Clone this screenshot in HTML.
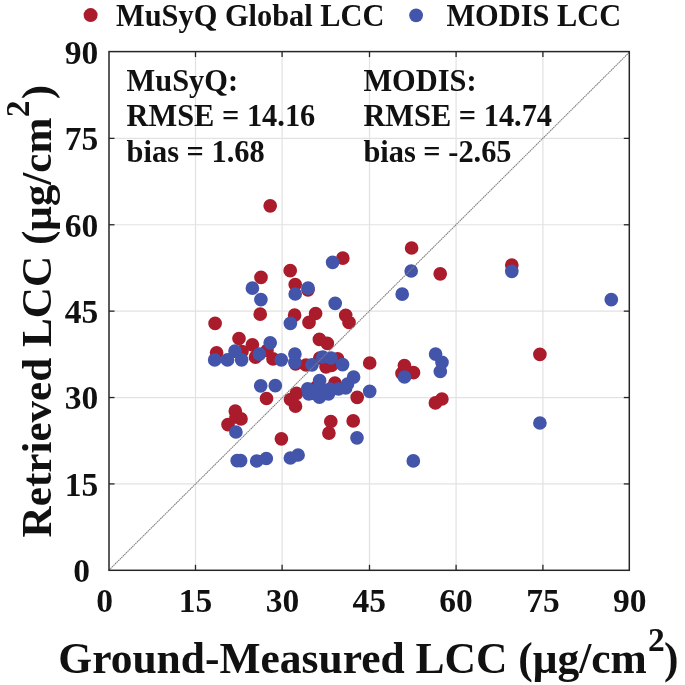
<!DOCTYPE html><html><head><meta charset="utf-8"><style>html,body{margin:0;padding:0;background:#fff;width:685px;height:685px;overflow:hidden}svg{display:block;filter:blur(0.45px)}text{font-family:"Liberation Serif",serif;font-weight:bold;fill:#111}</style></head><body>
<svg width="685" height="685" viewBox="0 0 685 685">
<rect width="685" height="685" fill="#fff"/>
<g stroke="#e2e2e2" stroke-width="1.2"><line x1="195.50" y1="51.6" x2="195.50" y2="570.3"/><line x1="109.0" y1="483.92" x2="629.3" y2="483.92"/><line x1="282.10" y1="51.6" x2="282.10" y2="570.3"/><line x1="109.0" y1="397.53" x2="629.3" y2="397.53"/><line x1="369.50" y1="51.6" x2="369.50" y2="570.3"/><line x1="109.0" y1="311.15" x2="629.3" y2="311.15"/><line x1="456.10" y1="51.6" x2="456.10" y2="570.3"/><line x1="109.0" y1="224.77" x2="629.3" y2="224.77"/><line x1="542.90" y1="51.6" x2="542.90" y2="570.3"/><line x1="109.0" y1="138.38" x2="629.3" y2="138.38"/></g>
<path fill="#aa1b2b" d="M263.35,205.80a6.85,6.85 0 1,0 13.70,0a6.85,6.85 0 1,0 -13.70,0zM254.15,277.40a6.85,6.85 0 1,0 13.70,0a6.85,6.85 0 1,0 -13.70,0zM283.35,270.70a6.85,6.85 0 1,0 13.70,0a6.85,6.85 0 1,0 -13.70,0zM288.35,284.50a6.85,6.85 0 1,0 13.70,0a6.85,6.85 0 1,0 -13.70,0zM301.15,289.80a6.85,6.85 0 1,0 13.70,0a6.85,6.85 0 1,0 -13.70,0zM253.35,314.20a6.85,6.85 0 1,0 13.70,0a6.85,6.85 0 1,0 -13.70,0zM208.25,323.40a6.85,6.85 0 1,0 13.70,0a6.85,6.85 0 1,0 -13.70,0zM287.75,315.20a6.85,6.85 0 1,0 13.70,0a6.85,6.85 0 1,0 -13.70,0zM308.75,313.50a6.85,6.85 0 1,0 13.70,0a6.85,6.85 0 1,0 -13.70,0zM302.15,322.40a6.85,6.85 0 1,0 13.70,0a6.85,6.85 0 1,0 -13.70,0zM338.85,315.30a6.85,6.85 0 1,0 13.70,0a6.85,6.85 0 1,0 -13.70,0zM342.15,322.40a6.85,6.85 0 1,0 13.70,0a6.85,6.85 0 1,0 -13.70,0zM335.95,258.20a6.85,6.85 0 1,0 13.70,0a6.85,6.85 0 1,0 -13.70,0zM232.15,338.50a6.85,6.85 0 1,0 13.70,0a6.85,6.85 0 1,0 -13.70,0zM245.55,344.80a6.85,6.85 0 1,0 13.70,0a6.85,6.85 0 1,0 -13.70,0zM209.75,352.80a6.85,6.85 0 1,0 13.70,0a6.85,6.85 0 1,0 -13.70,0zM235.15,351.50a6.85,6.85 0 1,0 13.70,0a6.85,6.85 0 1,0 -13.70,0zM248.65,357.20a6.85,6.85 0 1,0 13.70,0a6.85,6.85 0 1,0 -13.70,0zM260.15,350.50a6.85,6.85 0 1,0 13.70,0a6.85,6.85 0 1,0 -13.70,0zM266.15,358.90a6.85,6.85 0 1,0 13.70,0a6.85,6.85 0 1,0 -13.70,0zM312.55,339.40a6.85,6.85 0 1,0 13.70,0a6.85,6.85 0 1,0 -13.70,0zM320.45,343.40a6.85,6.85 0 1,0 13.70,0a6.85,6.85 0 1,0 -13.70,0zM299.15,365.00a6.85,6.85 0 1,0 13.70,0a6.85,6.85 0 1,0 -13.70,0zM288.75,363.80a6.85,6.85 0 1,0 13.70,0a6.85,6.85 0 1,0 -13.70,0zM312.95,358.00a6.85,6.85 0 1,0 13.70,0a6.85,6.85 0 1,0 -13.70,0zM330.75,358.80a6.85,6.85 0 1,0 13.70,0a6.85,6.85 0 1,0 -13.70,0zM319.15,366.80a6.85,6.85 0 1,0 13.70,0a6.85,6.85 0 1,0 -13.70,0zM324.65,365.50a6.85,6.85 0 1,0 13.70,0a6.85,6.85 0 1,0 -13.70,0zM328.05,383.00a6.85,6.85 0 1,0 13.70,0a6.85,6.85 0 1,0 -13.70,0zM309.65,387.20a6.85,6.85 0 1,0 13.70,0a6.85,6.85 0 1,0 -13.70,0zM289.65,393.40a6.85,6.85 0 1,0 13.70,0a6.85,6.85 0 1,0 -13.70,0zM283.65,399.50a6.85,6.85 0 1,0 13.70,0a6.85,6.85 0 1,0 -13.70,0zM288.65,406.20a6.85,6.85 0 1,0 13.70,0a6.85,6.85 0 1,0 -13.70,0zM362.85,363.00a6.85,6.85 0 1,0 13.70,0a6.85,6.85 0 1,0 -13.70,0zM350.35,397.30a6.85,6.85 0 1,0 13.70,0a6.85,6.85 0 1,0 -13.70,0zM323.95,421.50a6.85,6.85 0 1,0 13.70,0a6.85,6.85 0 1,0 -13.70,0zM322.05,433.10a6.85,6.85 0 1,0 13.70,0a6.85,6.85 0 1,0 -13.70,0zM346.35,420.90a6.85,6.85 0 1,0 13.70,0a6.85,6.85 0 1,0 -13.70,0zM259.65,398.50a6.85,6.85 0 1,0 13.70,0a6.85,6.85 0 1,0 -13.70,0zM228.45,411.10a6.85,6.85 0 1,0 13.70,0a6.85,6.85 0 1,0 -13.70,0zM229.15,417.00a6.85,6.85 0 1,0 13.70,0a6.85,6.85 0 1,0 -13.70,0zM234.15,418.90a6.85,6.85 0 1,0 13.70,0a6.85,6.85 0 1,0 -13.70,0zM221.15,424.60a6.85,6.85 0 1,0 13.70,0a6.85,6.85 0 1,0 -13.70,0zM274.55,438.80a6.85,6.85 0 1,0 13.70,0a6.85,6.85 0 1,0 -13.70,0zM404.75,248.00a6.85,6.85 0 1,0 13.70,0a6.85,6.85 0 1,0 -13.70,0zM433.35,273.80a6.85,6.85 0 1,0 13.70,0a6.85,6.85 0 1,0 -13.70,0zM397.55,365.50a6.85,6.85 0 1,0 13.70,0a6.85,6.85 0 1,0 -13.70,0zM406.65,372.70a6.85,6.85 0 1,0 13.70,0a6.85,6.85 0 1,0 -13.70,0zM395.15,373.40a6.85,6.85 0 1,0 13.70,0a6.85,6.85 0 1,0 -13.70,0zM428.55,402.90a6.85,6.85 0 1,0 13.70,0a6.85,6.85 0 1,0 -13.70,0zM435.05,399.00a6.85,6.85 0 1,0 13.70,0a6.85,6.85 0 1,0 -13.70,0zM504.95,265.00a6.85,6.85 0 1,0 13.70,0a6.85,6.85 0 1,0 -13.70,0zM533.05,354.30a6.85,6.85 0 1,0 13.70,0a6.85,6.85 0 1,0 -13.70,0z"/>
<path fill="#4354ab" d="M245.55,288.20a6.85,6.85 0 1,0 13.70,0a6.85,6.85 0 1,0 -13.70,0zM254.05,299.60a6.85,6.85 0 1,0 13.70,0a6.85,6.85 0 1,0 -13.70,0zM263.35,342.80a6.85,6.85 0 1,0 13.70,0a6.85,6.85 0 1,0 -13.70,0zM207.85,359.90a6.85,6.85 0 1,0 13.70,0a6.85,6.85 0 1,0 -13.70,0zM220.65,359.90a6.85,6.85 0 1,0 13.70,0a6.85,6.85 0 1,0 -13.70,0zM228.15,351.10a6.85,6.85 0 1,0 13.70,0a6.85,6.85 0 1,0 -13.70,0zM234.75,359.80a6.85,6.85 0 1,0 13.70,0a6.85,6.85 0 1,0 -13.70,0zM252.55,354.10a6.85,6.85 0 1,0 13.70,0a6.85,6.85 0 1,0 -13.70,0zM274.45,359.80a6.85,6.85 0 1,0 13.70,0a6.85,6.85 0 1,0 -13.70,0zM288.05,354.00a6.85,6.85 0 1,0 13.70,0a6.85,6.85 0 1,0 -13.70,0zM288.05,362.40a6.85,6.85 0 1,0 13.70,0a6.85,6.85 0 1,0 -13.70,0zM325.75,262.30a6.85,6.85 0 1,0 13.70,0a6.85,6.85 0 1,0 -13.70,0zM301.25,288.10a6.85,6.85 0 1,0 13.70,0a6.85,6.85 0 1,0 -13.70,0zM288.35,294.00a6.85,6.85 0 1,0 13.70,0a6.85,6.85 0 1,0 -13.70,0zM328.35,303.30a6.85,6.85 0 1,0 13.70,0a6.85,6.85 0 1,0 -13.70,0zM283.55,323.30a6.85,6.85 0 1,0 13.70,0a6.85,6.85 0 1,0 -13.70,0zM305.15,364.80a6.85,6.85 0 1,0 13.70,0a6.85,6.85 0 1,0 -13.70,0zM315.95,357.00a6.85,6.85 0 1,0 13.70,0a6.85,6.85 0 1,0 -13.70,0zM324.15,358.00a6.85,6.85 0 1,0 13.70,0a6.85,6.85 0 1,0 -13.70,0zM335.75,364.60a6.85,6.85 0 1,0 13.70,0a6.85,6.85 0 1,0 -13.70,0zM312.75,380.60a6.85,6.85 0 1,0 13.70,0a6.85,6.85 0 1,0 -13.70,0zM300.85,388.80a6.85,6.85 0 1,0 13.70,0a6.85,6.85 0 1,0 -13.70,0zM301.95,393.80a6.85,6.85 0 1,0 13.70,0a6.85,6.85 0 1,0 -13.70,0zM311.65,388.80a6.85,6.85 0 1,0 13.70,0a6.85,6.85 0 1,0 -13.70,0zM312.55,397.10a6.85,6.85 0 1,0 13.70,0a6.85,6.85 0 1,0 -13.70,0zM321.65,393.80a6.85,6.85 0 1,0 13.70,0a6.85,6.85 0 1,0 -13.70,0zM323.15,389.20a6.85,6.85 0 1,0 13.70,0a6.85,6.85 0 1,0 -13.70,0zM331.65,389.00a6.85,6.85 0 1,0 13.70,0a6.85,6.85 0 1,0 -13.70,0zM338.85,388.00a6.85,6.85 0 1,0 13.70,0a6.85,6.85 0 1,0 -13.70,0zM340.65,384.00a6.85,6.85 0 1,0 13.70,0a6.85,6.85 0 1,0 -13.70,0zM346.75,377.10a6.85,6.85 0 1,0 13.70,0a6.85,6.85 0 1,0 -13.70,0zM362.85,391.30a6.85,6.85 0 1,0 13.70,0a6.85,6.85 0 1,0 -13.70,0zM350.15,437.80a6.85,6.85 0 1,0 13.70,0a6.85,6.85 0 1,0 -13.70,0zM253.85,385.80a6.85,6.85 0 1,0 13.70,0a6.85,6.85 0 1,0 -13.70,0zM268.45,385.70a6.85,6.85 0 1,0 13.70,0a6.85,6.85 0 1,0 -13.70,0zM229.05,432.00a6.85,6.85 0 1,0 13.70,0a6.85,6.85 0 1,0 -13.70,0zM230.35,460.70a6.85,6.85 0 1,0 13.70,0a6.85,6.85 0 1,0 -13.70,0zM233.75,460.70a6.85,6.85 0 1,0 13.70,0a6.85,6.85 0 1,0 -13.70,0zM249.85,461.00a6.85,6.85 0 1,0 13.70,0a6.85,6.85 0 1,0 -13.70,0zM259.45,458.50a6.85,6.85 0 1,0 13.70,0a6.85,6.85 0 1,0 -13.70,0zM283.55,458.00a6.85,6.85 0 1,0 13.70,0a6.85,6.85 0 1,0 -13.70,0zM291.25,455.00a6.85,6.85 0 1,0 13.70,0a6.85,6.85 0 1,0 -13.70,0zM404.35,271.00a6.85,6.85 0 1,0 13.70,0a6.85,6.85 0 1,0 -13.70,0zM395.35,294.20a6.85,6.85 0 1,0 13.70,0a6.85,6.85 0 1,0 -13.70,0zM397.65,377.00a6.85,6.85 0 1,0 13.70,0a6.85,6.85 0 1,0 -13.70,0zM428.75,354.10a6.85,6.85 0 1,0 13.70,0a6.85,6.85 0 1,0 -13.70,0zM435.15,362.30a6.85,6.85 0 1,0 13.70,0a6.85,6.85 0 1,0 -13.70,0zM433.45,371.50a6.85,6.85 0 1,0 13.70,0a6.85,6.85 0 1,0 -13.70,0zM504.95,271.30a6.85,6.85 0 1,0 13.70,0a6.85,6.85 0 1,0 -13.70,0zM604.45,299.70a6.85,6.85 0 1,0 13.70,0a6.85,6.85 0 1,0 -13.70,0zM533.05,423.00a6.85,6.85 0 1,0 13.70,0a6.85,6.85 0 1,0 -13.70,0zM406.45,460.90a6.85,6.85 0 1,0 13.70,0a6.85,6.85 0 1,0 -13.70,0z"/>
<line x1="108.8" y1="570.3" x2="629.6" y2="52.0" stroke="#7e7e7e" stroke-width="1.05" stroke-dasharray="1.6 0.6"/>
<g stroke="#262626" stroke-width="1.3"><line x1="195.50" y1="570.3" x2="195.50" y2="564.8"/><line x1="195.50" y1="51.6" x2="195.50" y2="57.1"/><line x1="109.0" y1="483.92" x2="114.5" y2="483.92"/><line x1="629.3" y1="483.92" x2="623.8" y2="483.92"/><line x1="282.10" y1="570.3" x2="282.10" y2="564.8"/><line x1="282.10" y1="51.6" x2="282.10" y2="57.1"/><line x1="109.0" y1="397.53" x2="114.5" y2="397.53"/><line x1="629.3" y1="397.53" x2="623.8" y2="397.53"/><line x1="369.50" y1="570.3" x2="369.50" y2="564.8"/><line x1="369.50" y1="51.6" x2="369.50" y2="57.1"/><line x1="109.0" y1="311.15" x2="114.5" y2="311.15"/><line x1="629.3" y1="311.15" x2="623.8" y2="311.15"/><line x1="456.10" y1="570.3" x2="456.10" y2="564.8"/><line x1="456.10" y1="51.6" x2="456.10" y2="57.1"/><line x1="109.0" y1="224.77" x2="114.5" y2="224.77"/><line x1="629.3" y1="224.77" x2="623.8" y2="224.77"/><line x1="542.90" y1="570.3" x2="542.90" y2="564.8"/><line x1="542.90" y1="51.6" x2="542.90" y2="57.1"/><line x1="109.0" y1="138.38" x2="114.5" y2="138.38"/><line x1="629.3" y1="138.38" x2="623.8" y2="138.38"/></g>
<rect x="109.0" y="51.6" width="520.3" height="518.6999999999999" fill="none" stroke="#262626" stroke-width="1.5"/>
<text x="90.10000000000001" y="582.10" font-size="33.5" text-anchor="end">0</text><text x="98.2" y="495.72" font-size="33.5" text-anchor="end">15</text><text x="98.2" y="409.33" font-size="33.5" text-anchor="end">30</text><text x="98.2" y="322.95" font-size="33.5" text-anchor="end">45</text><text x="98.2" y="236.57" font-size="33.5" text-anchor="end">60</text><text x="98.2" y="150.18" font-size="33.5" text-anchor="end">75</text><text x="98.2" y="63.80" font-size="33.5" text-anchor="end">90</text><text x="104.70" y="612" font-size="33.5" text-anchor="middle">0</text><text x="195.62" y="612" font-size="33.5" text-anchor="middle">15</text><text x="282.44" y="612" font-size="33.5" text-anchor="middle">30</text><text x="369.26" y="612" font-size="33.5" text-anchor="middle">45</text><text x="456.08" y="612" font-size="33.5" text-anchor="middle">60</text><text x="542.90" y="612" font-size="33.5" text-anchor="middle">75</text><text x="629.72" y="612" font-size="33.5" text-anchor="middle">90</text>
<circle cx="90.6" cy="15.1" r="7" fill="#aa1b2b"/>
<circle cx="416.1" cy="15.3" r="6.9" fill="#4354ab"/>
<text transform="translate(115.99,25.8) scale(1,1.035)" font-size="30.4">MuSyQ Global LCC</text>
<text transform="translate(446.39,25.8) scale(1,1.035)" font-size="30.4">MODIS LCC</text>
<text transform="translate(126.6,91.1) scale(1,1.035)" font-size="30.4">MuSyQ:</text>
<text transform="translate(126.6,126.3) scale(1,1.035)" font-size="30.4">RMSE = 14.16</text>
<text transform="translate(126.6,161.5) scale(1,1.035)" font-size="30.4">bias = 1.68</text>
<text transform="translate(363.4,91.1) scale(1,1.035)" font-size="30.4">MODIS:</text>
<text transform="translate(363.4,126.3) scale(1,1.035)" font-size="30.4">RMSE = 14.74</text>
<text transform="translate(363.4,161.5) scale(1,1.035)" font-size="30.4">bias = -2.65</text>
<text x="58.3" y="673.4" font-size="43.5">Ground-Measured LCC (μg/cm<tspan font-size="33.5" dx="1.2" dy="-22">2</tspan><tspan dx="-0.8" dy="22">)</tspan></text>
<text transform="translate(50.5,537.4) rotate(-90)" x="0" y="0" font-size="43.15">Retrieved LCC (μg/cm<tspan font-size="33.5" dx="0.3" dy="-22">2</tspan><tspan dx="1.2" dy="22">)</tspan></text>
</svg></body></html>
